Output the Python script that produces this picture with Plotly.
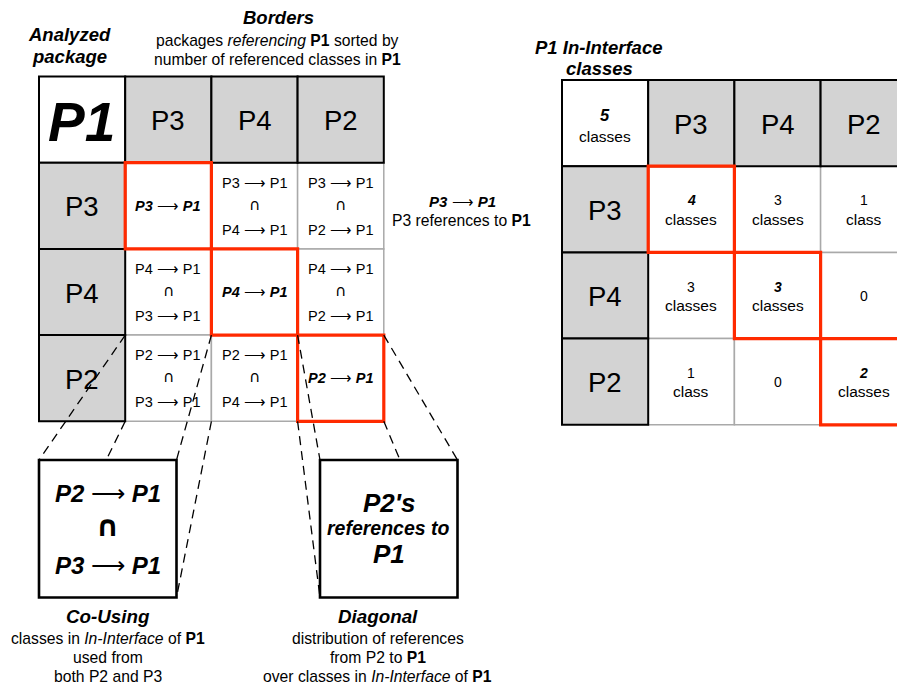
import plotly.graph_objects as go

# ---------------- data ----------------
analyzed = "P1"
packages = ["P3", "P4", "P2"]            # sorted by number of referenced classes
in_interface_total = 5
class_counts = [[4, 3, 1],
                [3, 3, 0],
                [1, 0, 2]]
co_using_cell = (2, 0)                    # (row, col) zoomed as Co-Using
diagonal_cell = (2, 2)                    # (row, col) zoomed as Diagonal

# ---------------- layout constants ----------------
W, H = 897, 686
FONT = "Liberation Sans, Arial, Helvetica, sans-serif"
SYM = "DejaVu Sans, sans-serif"
RED = "#ff2a00"
GRAY = "#d3d3d3"
GRID = "#a9a9a9"
LX, LY = 39, 76.5      # left matrix origin
RX, RY = 562, 80       # right matrix origin
C = 86.2               # cell size
BOX = 137.5            # zoom box size
BOX_Y = 460
ARROW = "⟶"
TITLE = 18.5
CAP = 15.7

shapes = []
ann = []


def txt(x, y, s, size, family=FONT, xanchor="center"):
    ann.append(dict(x=x, y=y, text=s, showarrow=False, xanchor=xanchor, yanchor="middle",
                    font=dict(size=size, family=family, color="black"), xref="x", yref="y"))


def rect(x0, y0, x1, y1, line, width, fill="rgba(0,0,0,0)"):
    shapes.append(dict(type="rect", x0=x0, y0=y0, x1=x1, y1=y1, xref="x", yref="y",
                       line=dict(color=line, width=width), fillcolor=fill, layer="above"))


def seg(x0, y0, x1, y1):
    shapes.append(dict(type="line", x0=x0, y0=y0, x1=x1, y1=y1, xref="x", yref="y",
                       line=dict(color="black", width=1.3, dash="9px,6px"), layer="above"))


n = len(packages)


def cell(ox, oy, r, c):
    return ox + c * C, oy + r * C, ox + (c + 1) * C, oy + (r + 1) * C


def matrix(ox, oy):
    for r in range(1, n + 1):
        for c in range(1, n + 1):
            x0, y0, x1, y1 = cell(ox, oy, r, c)
            rect(x0, y0, x1, y1, GRID, 1.5, "white")
    for k in range(n + 1):
        x0, y0, x1, y1 = cell(ox, oy, 0, k)
        rect(x0, y0, x1, y1, "black", 2, "white" if k == 0 else GRAY)
        if k > 0:
            x0, y0, x1, y1 = cell(ox, oy, k, 0)
            rect(x0, y0, x1, y1, "black", 2, GRAY)
    for k in range(1, n + 1):
        x0, y0, x1, y1 = cell(ox, oy, k, k)
        rect(x0, y0, x1, y1, RED, 3.2)
    for k, p in enumerate(packages, start=1):
        x0, y0, x1, y1 = cell(ox, oy, 0, k)
        txt((x0 + x1) / 2, (y0 + y1) / 2 + 1, p, 27.5)
        x0, y0, x1, y1 = cell(ox, oy, k, 0)
        txt((x0 + x1) / 2, (y0 + y1) / 2 + 1, p, 27.5)


# ---------------- left matrix ----------------
matrix(LX, LY)
x0, y0, x1, y1 = cell(LX, LY, 0, 0)
txt((x0 + x1) / 2 - 1, (y0 + y1) / 2 + 2, f"<b><i>{analyzed}</i></b>", 55)
for r, pr in enumerate(packages):
    for c, pc in enumerate(packages):
        x0, y0, x1, y1 = cell(LX, LY, r + 1, c + 1)
        cx, cy = (x0 + x1) / 2, (y0 + y1) / 2
        if r == c:
            txt(cx, cy, f"<b><i>{pr}</i></b> {ARROW} <b><i>{analyzed}</i></b>", 14.5)
        else:
            txt(cx, cy - 23, f"{pr} {ARROW} {analyzed}", 14.5)
            txt(cx, cy - 1, "∩", 15.5, family=SYM)
            txt(cx, cy + 24, f"{pc} {ARROW} {analyzed}", 14.5)

txt(69, 34, "<b><i>Analyzed</i></b>", TITLE)
txt(69, 56, "<b><i>package</i></b>", TITLE)
txt(278, 17, "<b><i>Borders</i></b>", TITLE)
txt(277, 40, f"packages <i>referencing</i> <b>{analyzed}</b> sorted by", CAP)
txt(277, 59, f"number of referenced classes in <b>{analyzed}</b>", CAP)

txt(462, 201, f"<b><i>{packages[0]}</i></b> {ARROW} <b><i>{analyzed}</i></b>", 15)
txt(461, 220, f"{packages[0]} references to <b>{analyzed}</b>", CAP)


# ---------------- zoom lines and boxes ----------------
def zoom(rc, bx):
    r, c = rc
    x0, y0, x1, y1 = cell(LX, LY, r + 1, c + 1)
    seg(x0, y0, bx, BOX_Y)
    seg(x1, y0, bx + BOX, BOX_Y)
    seg(x0, y1, bx, BOX_Y + BOX)
    seg(x1, y1, bx + BOX, BOX_Y + BOX)
    rect(bx, BOX_Y, bx + BOX, BOX_Y + BOX, "black", 2.6, "white")
    return bx + BOX / 2


cu = zoom(co_using_cell, LX)
dg = zoom(diagonal_cell, 320)

pa, pb = packages[co_using_cell[0]], packages[co_using_cell[1]]
txt(cu, 493, f"<b><i>{pa}</i></b> {ARROW} <b><i>{analyzed}</i></b>", 24)
txt(cu, 526, "<b>∩</b>", 29, family=SYM)
txt(cu, 565, f"<b><i>{pb}</i></b> {ARROW} <b><i>{analyzed}</i></b>", 24)
txt(cu, 616, "<b><i>Co-Using</i></b>", 18.8)
txt(cu, 638, f"classes in <i>In-Interface</i> of <b>{analyzed}</b>", CAP)
txt(cu, 657, "used from", CAP)
txt(cu, 676, f"both {pa} and {pb}", CAP)

pd_ = packages[diagonal_cell[0]]
txt(dg, 503, f"<b><i>{pd_}'s</i></b>", 26)
txt(dg, 528, "<b><i>references to</i></b>", 19.5)
txt(dg, 554, f"<b><i>{analyzed}</i></b>", 26)
txt(dg - 11, 616, "<b><i>Diagonal</i></b>", 18.8)
txt(dg - 11, 638, "distribution of references", CAP)
txt(dg - 11, 657, f"from {pd_} to <b>{analyzed}</b>", CAP)
txt(dg - 11, 676, f"over classes in <i>In-Interface</i> of <b>{analyzed}</b>", CAP)

# ---------------- right matrix ----------------
matrix(RX, RY)
x0, y0, x1, y1 = cell(RX, RY, 0, 0)
txt((x0 + x1) / 2, 115, f"<b><i>{in_interface_total}</i></b>", 16.5)
txt((x0 + x1) / 2, 136, "classes", 15.5)
txt(599, 47, f"<b><i>{analyzed} In-Interface</i></b>", TITLE)
txt(599, 68, "<b><i>classes</i></b>", TITLE)
for r in range(n):
    for c in range(n):
        v = class_counts[r][c]
        x0, y0, x1, y1 = cell(RX, RY, r + 1, c + 1)
        cx, cy = (x0 + x1) / 2, (y0 + y1) / 2
        if v == 0:
            txt(cx, cy, "0", 14)
            continue
        num = f"<b><i>{v}</i></b>" if r == c else f"{v}"
        txt(cx, cy - 9, num, 14)
        txt(cx, cy + 10, "class" if v == 1 else "classes", 15.5)

fig = go.Figure()
fig.add_trace(go.Scatter(x=[], y=[], mode="markers", showlegend=False))
fig.update_layout(
    width=W, height=H, margin=dict(l=0, r=0, t=0, b=0),
    paper_bgcolor="white", plot_bgcolor="white",
    xaxis=dict(range=[0, W], visible=False, fixedrange=True),
    yaxis=dict(range=[H, 0], visible=False, fixedrange=True),
    shapes=shapes, annotations=ann, showlegend=False,
)
fig.write_html("out.html", config={"displayModeBar": False},
               post_script="document.body.style.margin='0px';document.body.style.overflow='hidden';")
